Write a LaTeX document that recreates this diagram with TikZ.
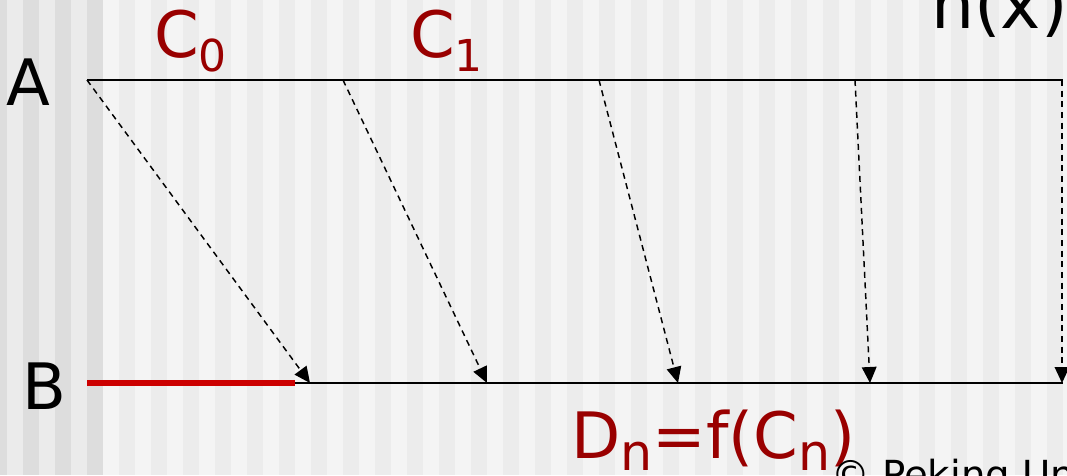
\documentclass[tikz,border=0pt]{standalone}
\usepackage{fontspec}
\setmainfont{DejaVu Sans}
\usetikzlibrary{arrows.meta}
\definecolor{leftdark}{HTML}{DDDDDD}
\definecolor{leftlight}{HTML}{EBEBEB}
\definecolor{rightdark}{HTML}{ECECEC}
\definecolor{rightlight}{HTML}{F4F4F4}
\definecolor{labelred}{HTML}{990000}
\definecolor{barred}{HTML}{CC0000}
\newcommand{\lowsub}[1]{{\fontsize{33}{33}\selectfont\raisebox{-11pt}{#1}}}
\newcommand{\lownsub}[1]{{\fontsize{38}{38}\selectfont\raisebox{-9pt}{#1}}}
\begin{document}
\begin{tikzpicture}[x=0.75pt,y=-0.75pt,
  every node/.style={font=\fontsize{48}{56}\selectfont,inner sep=0pt},
  axisline/.style={line width=1.5pt},
  msg/.style={line width=1.1pt,dash pattern=on 4.5pt off 3.5pt,-{Triangle[length=12pt,width=11pt]}},
  clabel/.style={text=labelred}]
  \useasboundingbox (0,0) rectangle (1067,475);
  \clip (0,0) rectangle (1067,475);
  % striped background
  \fill[leftlight] (0,0) rectangle (103,475);
  \foreach \x in {-9,23,55,87} {\fill[leftdark] (\x,0) rectangle ++(16,475);}
  \fill[rightlight] (103,0) rectangle (1067,475);
  \foreach \x in {119,151,...,1047} {\fill[rightdark] (\x,0) rectangle ++(16,475);}
  % the two lines
  \coordinate (A0) at (87,80);  \coordinate (A1) at (1063,80);
  \coordinate (B0) at (87,383); \coordinate (B1) at (1063,383);
  \coordinate (Bred) at (295,383);
  \node (A) at (28,82) {A};
  \node (B) at (44,386) {B};
  % messages from A to B
  \foreach \s/\e [count=\i] in {87/310, 343/487, 599/678, 855/870, 1062/1062} {
    \coordinate (s\i) at (\s,80);
    \coordinate (e\i) at (\e,383);
    \draw[msg] (s\i) -- (e\i);
  }
  \draw[axisline] (A0) -- (A1);
  \draw[axisline] (B0) -- (B1);
  \draw[line width=4.5pt,barred] (B0) -- (Bred);
  % labels
  \node[clabel,anchor=base west] (c0) at (154,57) {C\lowsub{0}};
  \node[clabel,anchor=base west] (c1) at (410,57) {C\lowsub{1}};
  \node[anchor=base east,font=\fontsize{51}{56}\selectfont] (hx) at (1068,28) {h(x)};
  \node[clabel,anchor=base west] (dn) at (571,458) {D\lownsub{n}=f(C\lownsub{n})};
  \node[anchor=base west,font=\fontsize{29}{32}\selectfont] (copy) at (831,488) {© Peking University};
\end{tikzpicture}
\end{document}
